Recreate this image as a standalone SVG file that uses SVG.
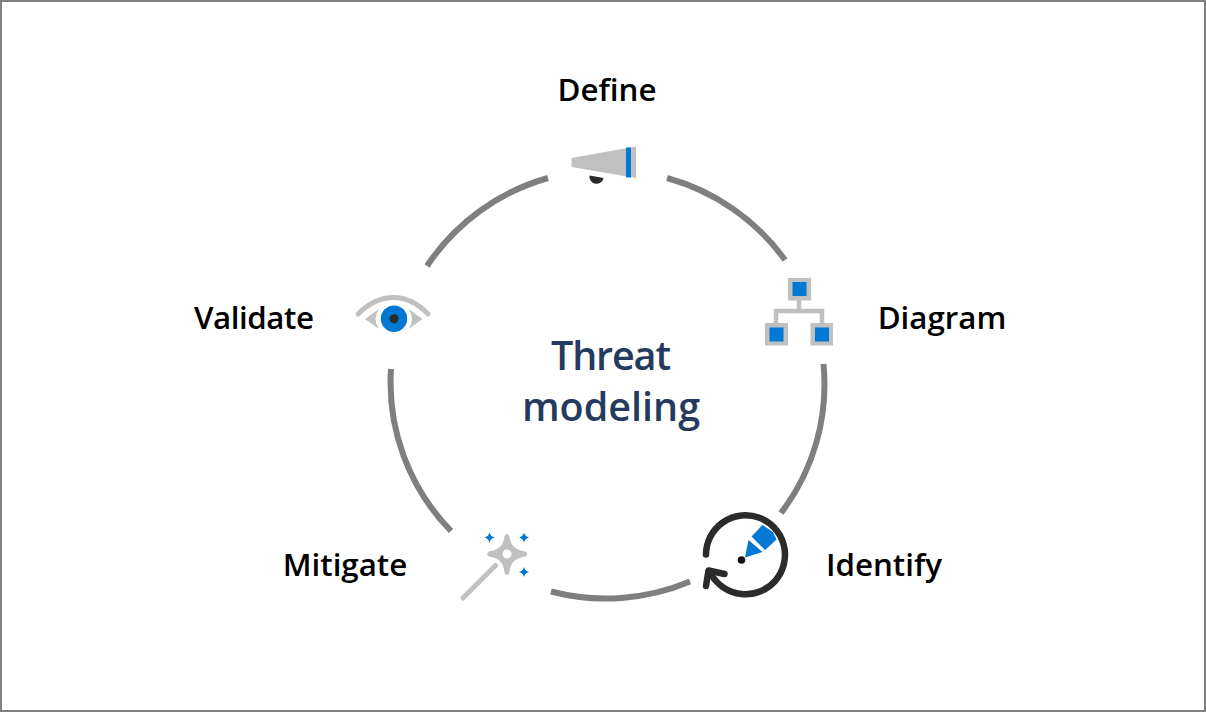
<svg xmlns="http://www.w3.org/2000/svg" width="1206" height="712" viewBox="0 0 1206 712">
<style>
.lbl{font-family:"Open Sans","Noto Sans",sans-serif;font-size:31.300px;font-weight:600;fill:#000;text-anchor:middle}
.ttl{font-family:"Open Sans","Noto Sans",sans-serif;font-size:39.500px;font-weight:600;fill:#243a5e;text-anchor:middle}
.arc{fill:none;stroke:#7f7f7f;stroke-width:6}
.g{fill:#c0c0c0}
.b{fill:#0078d4}
.d{fill:#2b2b2b}
.gl{fill:none;stroke:#c0c0c0;stroke-width:4.500}
</style>
<rect x="1" y="1" width="1204" height="710" fill="#fff" stroke="#808080" stroke-width="2"/>
<g id="connectors">
<path class="arc" d="M548 178A215.500 213.500 0 0 0 427 266"/>
<path class="arc" d="M667 178A215.500 213.500 0 0 1 785 260"/>
<path class="arc" d="M823.500 364A215.500 213.500 0 0 1 781 513"/>
<path class="arc" d="M690 581.500A215.500 213.500 0 0 1 551 591.500"/>
<path class="arc" d="M451 531A215.500 213.500 0 0 1 391 369"/>
</g>
<g id="center"><text class="ttl" x="611" y="370" textLength="120" lengthAdjust="spacing">Threat</text><text class="ttl" x="611" y="421">modeling</text></g>
<g id="define">
<text class="lbl" x="607" y="101">Define</text>
<path class="g" d="M571.500 158L636 146.500V178L571.500 167Z"/>
<rect class="b" x="626" y="147.500" width="5" height="30"/>
<path class="d" d="M589.500 175.500L603.500 178A7 7 0 0 1 589.500 175.500Z"/>
</g>
<g id="diagram">
<text class="lbl" x="942" y="329">Diagram</text>
<path class="gl" d="M799 300V311M776 323V311H822V323"/>
<rect class="g" x="788" y="278" width="23" height="22.500"/><rect class="b" x="792.500" y="282" width="14" height="14"/>
<rect class="g" x="765" y="323" width="23" height="22.500"/><rect class="b" x="769.500" y="327.500" width="14" height="14"/>
<rect class="g" x="810.500" y="323" width="22.500" height="22.500"/><rect class="b" x="815" y="327.500" width="14" height="14"/>
</g>
<g id="identify">
<text class="lbl" x="884" y="576">Identify</text>
<path fill="none" stroke="#2b2b2b" stroke-width="6.500" stroke-linecap="round" d="M706 554.500A39.500 39.500 0 1 1 711 574"/>
<path fill="none" stroke="#2b2b2b" stroke-width="6.500" stroke-linecap="round" stroke-linejoin="round" d="M724.500 574L708.500 570.500L706 586"/>
<path class="b" d="M751.500 536.500L762.500 525L773 532L776.500 539.500L765 550Z"/>
<path class="b" d="M748.500 540L762.500 552L745 557.500Z"/>
<circle cx="741.500" cy="560" r="3.800" fill="#111"/>
</g>
<g id="mitigate">
<text class="lbl" x="345" y="576">Mitigate</text>
<path class="g" d="M504.500 536Q507 532 509.500 536C510 545 515 550 525.500 551.500Q529 554 525.500 556.500C515 558 510 563 509.500 573Q507 577 504.500 573C504 563 499 558 489 556.500Q485.500 554 489 551.500C499 550 504 545 504.500 536Z"/>
<circle cx="507" cy="554" r="4.500" fill="#fff"/>
<path fill="none" stroke="#c0c0c0" stroke-width="5" stroke-linecap="round" d="M495.500 565.500L463 598"/>
<path class="b" d="M489.500 532.500Q490.500 536.500 494.500 537.500Q490.500 538.500 489.500 542.500Q488.500 538.500 484.500 537.500Q488.500 536.500 489.500 532.500Z"/>
<path class="b" d="M524 532.500Q525 536.500 529 537.500Q525 538.500 524 542.500Q523 538.500 519 537.500Q523 536.500 524 532.500Z"/>
<path class="b" d="M524 567Q525 571 529 572Q525 573 524 577Q523 573 519 572Q523 571 524 567Z"/>
</g>
<g id="validate">
<text class="lbl" x="254" y="329" textLength="120" lengthAdjust="spacing">Validate</text>
<path fill="none" stroke="#c0c0c0" stroke-width="5" stroke-linecap="round" d="M358 314C380 292 407 292 428 314"/>
<path class="g" d="M365 319L379 309Q372 319 379 329Z"/>
<path class="g" d="M422.500 319L408.500 309Q415.500 319 408.500 329Z"/>
<circle class="b" cx="394" cy="318.700" r="13.200"/>
<circle class="d" cx="394" cy="318.700" r="4.500"/>
</g>
</svg>
